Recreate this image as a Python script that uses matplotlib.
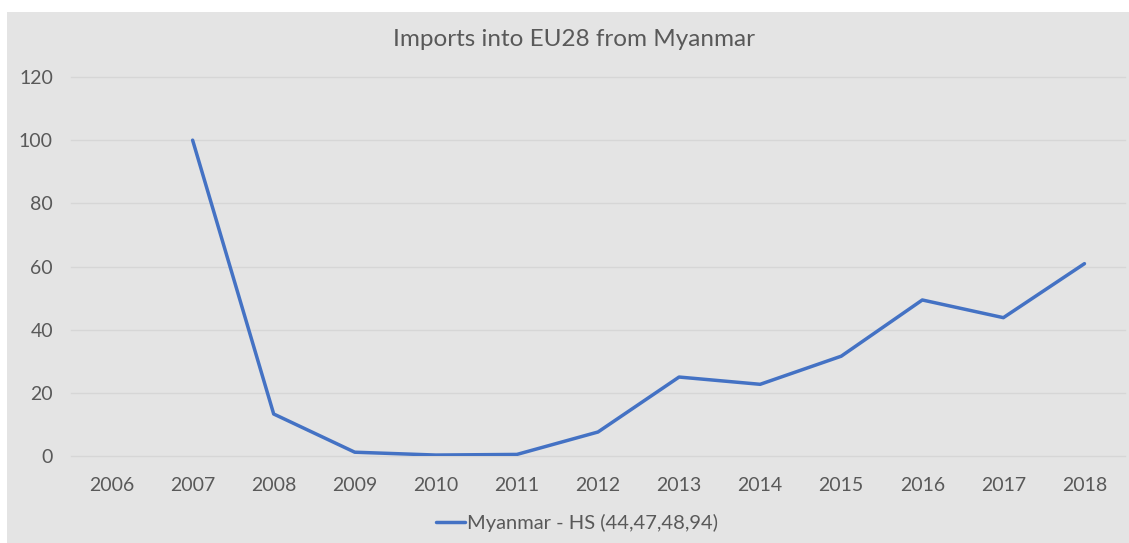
import numpy as np
import matplotlib.pyplot as plt
from matplotlib.patches import Rectangle

# Import index by year (2006 has no value)
years = ["2006", "2007", "2008", "2009", "2010", "2011", "2012",
         "2013", "2014", "2015", "2016", "2017", "2018"]
imports = [np.nan, 100, 13.3, 1.2, 0.3, 0.5, 7.6,
           25.0, 22.7, 31.6, 49.4, 43.8, 60.9]
series_label = "Myanmar - HS (44,47,48,94)"
y_ticks = [0, 20, 40, 60, 80, 100, 120]

plt.rcParams['font.family'] = ['Lato', 'DejaVu Sans']

W, H = 1129, 543
fig = plt.figure(figsize=(W / 100, H / 100), dpi=100)
fig.patch.set_facecolor("white")

# gray chart area
fig.patches.append(Rectangle((7 / W, 0), 1 - 7 / W, (H - 12) / H,
                             transform=fig.transFigure, facecolor="#E4E4E4",
                             edgecolor="none", zorder=-10))

ax = fig.add_axes([71 / W, (H - 456) / H, (1125 - 71) / W, (456 - 77) / H])
ax.set_facecolor("none")
ax.set_zorder(1)

x = np.arange(len(years))
line, = ax.plot(x, imports, color="#4472C4", linewidth=2.5,
                solid_capstyle="round", solid_joinstyle="round",
                label=series_label, zorder=3)

ax.set_xlim(-0.5, len(years) - 0.5)
ax.set_ylim(0, 120)
ax.set_xticks(x)
ax.set_xticklabels(years)
ax.set_yticks(y_ticks)

for s in ax.spines.values():
    s.set_visible(False)
ax.grid(axis="y", color="#D6D6D6", linewidth=1.0, zorder=1)
ax.set_axisbelow(True)
for gl in ax.get_ygridlines():
    gl.set_clip_on(False)

ax.tick_params(axis="both", length=0, labelsize=14, colors="#595959")
ax.tick_params(axis="y", pad=13)
ax.tick_params(axis="x", pad=15)

fig.text(574 / W, (H - 40) / H, "Imports into EU28 from Myanmar",
         ha="center", va="center", fontsize=17.5, color="#595959")

leg = fig.legend(handles=[line], loc="center", bbox_to_anchor=(577 / W, (H - 523) / H),
                 frameon=False, fontsize=14.5, handlelength=1.45, handletextpad=0.1)
for t in leg.get_texts():
    t.set_color("#595959")

fig.savefig("out.png", dpi=100)
